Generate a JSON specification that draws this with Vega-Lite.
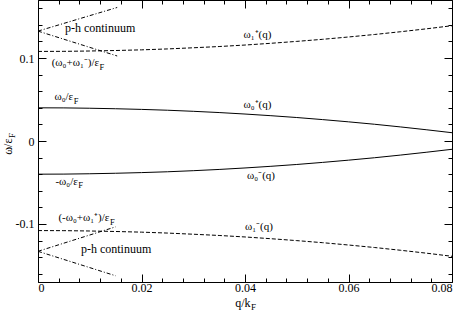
{
  "$schema": "https://vega.github.io/schema/vega-lite/v6.json",
  "width": 414,
  "height": 282,
  "autosize": "none",
  "padding": {"left": 38, "top": 0, "right": 11, "bottom": 29},
  "config": {
    "font": "Liberation Serif, Times New Roman, Times, serif",
    "view": {"stroke": "black", "strokeWidth": 1},
    "axis": {
      "labelFont": "Liberation Serif, Times New Roman, Times, serif", "labelFontSize": 12, "labelColor": "black",
      "tickColor": "black", "tickWidth": 1,
      "titleFont": "Liberation Serif, Times New Roman, Times, serif", "titleFontSize": 12, "titleFontWeight": "normal", "titleColor": "black",
      "grid": false, "domain": false
    },
    "text": {"font": "Liberation Serif, Times New Roman, Times, serif"}
  },
  "datasets": {
    "solid": [
      {"s": "p0", "q": 0, "w": 0.04}, {"s": "p0", "q": 0.005, "w": 0.0399}, {"s": "p0", "q": 0.01, "w": 0.0395}, {"s": "p0", "q": 0.015, "w": 0.0389},
      {"s": "p0", "q": 0.02, "w": 0.0381}, {"s": "p0", "q": 0.025, "w": 0.0371}, {"s": "p0", "q": 0.03, "w": 0.0358}, {"s": "p0", "q": 0.035, "w": 0.0343},
      {"s": "p0", "q": 0.04, "w": 0.0325}, {"s": "p0", "q": 0.045, "w": 0.0305}, {"s": "p0", "q": 0.05, "w": 0.0283}, {"s": "p0", "q": 0.055, "w": 0.0258},
      {"s": "p0", "q": 0.06, "w": 0.0231}, {"s": "p0", "q": 0.065, "w": 0.0202}, {"s": "p0", "q": 0.07, "w": 0.0170}, {"s": "p0", "q": 0.075, "w": 0.0136},
      {"s": "p0", "q": 0.08, "w": 0.0100},
      {"s": "m0", "q": 0, "w": -0.04}, {"s": "m0", "q": 0.005, "w": -0.0399}, {"s": "m0", "q": 0.01, "w": -0.0395}, {"s": "m0", "q": 0.015, "w": -0.0389},
      {"s": "m0", "q": 0.02, "w": -0.0381}, {"s": "m0", "q": 0.025, "w": -0.0371}, {"s": "m0", "q": 0.03, "w": -0.0358}, {"s": "m0", "q": 0.035, "w": -0.0343},
      {"s": "m0", "q": 0.04, "w": -0.0325}, {"s": "m0", "q": 0.045, "w": -0.0305}, {"s": "m0", "q": 0.05, "w": -0.0283}, {"s": "m0", "q": 0.055, "w": -0.0258},
      {"s": "m0", "q": 0.06, "w": -0.0231}, {"s": "m0", "q": 0.065, "w": -0.0202}, {"s": "m0", "q": 0.07, "w": -0.0170}, {"s": "m0", "q": 0.075, "w": -0.0136},
      {"s": "m0", "q": 0.08, "w": -0.0100}
    ],
    "dashed": [
      {"s": "p1", "q": 0, "w": 0.1080}, {"s": "p1", "q": 0.005, "w": 0.1081}, {"s": "p1", "q": 0.01, "w": 0.1085}, {"s": "p1", "q": 0.015, "w": 0.1091},
      {"s": "p1", "q": 0.02, "w": 0.1099}, {"s": "p1", "q": 0.025, "w": 0.1110}, {"s": "p1", "q": 0.03, "w": 0.1124}, {"s": "p1", "q": 0.035, "w": 0.1139},
      {"s": "p1", "q": 0.04, "w": 0.1157}, {"s": "p1", "q": 0.045, "w": 0.1178}, {"s": "p1", "q": 0.05, "w": 0.1201}, {"s": "p1", "q": 0.055, "w": 0.1226},
      {"s": "p1", "q": 0.06, "w": 0.1254}, {"s": "p1", "q": 0.065, "w": 0.1284}, {"s": "p1", "q": 0.07, "w": 0.1317}, {"s": "p1", "q": 0.075, "w": 0.1352},
      {"s": "p1", "q": 0.08, "w": 0.1390},
      {"s": "m1", "q": 0, "w": -0.1080}, {"s": "m1", "q": 0.005, "w": -0.1081}, {"s": "m1", "q": 0.01, "w": -0.1085}, {"s": "m1", "q": 0.015, "w": -0.1091},
      {"s": "m1", "q": 0.02, "w": -0.1099}, {"s": "m1", "q": 0.025, "w": -0.1110}, {"s": "m1", "q": 0.03, "w": -0.1124}, {"s": "m1", "q": 0.035, "w": -0.1139},
      {"s": "m1", "q": 0.04, "w": -0.1157}, {"s": "m1", "q": 0.045, "w": -0.1178}, {"s": "m1", "q": 0.05, "w": -0.1201}, {"s": "m1", "q": 0.055, "w": -0.1226},
      {"s": "m1", "q": 0.06, "w": -0.1254}, {"s": "m1", "q": 0.065, "w": -0.1284}, {"s": "m1", "q": 0.07, "w": -0.1317}, {"s": "m1", "q": 0.075, "w": -0.1352},
      {"s": "m1", "q": 0.08, "w": -0.1390}
    ],
    "dashdot": [
      {"s": "a", "q": 0, "w": 0.1325}, {"s": "a", "q": 0.0153, "w": 0.161},
      {"s": "b", "q": 0, "w": 0.1325}, {"s": "b", "q": 0.0153, "w": 0.1025},
      {"s": "c", "q": 0, "w": -0.133}, {"s": "c", "q": 0.015, "w": -0.1035},
      {"s": "d", "q": 0, "w": -0.133}, {"s": "d", "q": 0.015, "w": -0.1625}
    ],
    "phLabels": [
      {"t": "p-h continuum", "q": 0.0052, "w": 0.136},
      {"t": "p-h continuum", "q": 0.0083, "w": -0.130}
    ],
    "omegaLabels": [
      {"t": "ω₁⁺(q)", "q": 0.0397, "w": 0.1277},
      {"t": "ω₀⁺(q)", "q": 0.0397, "w": 0.0434},
      {"t": "ω₀⁻(q)", "q": 0.0404, "w": -0.042},
      {"t": "ω₁⁻(q)", "q": 0.0400, "w": -0.1036}
    ],
    "epsLabels": [
      {"t": "(ω₀+ω₁⁻)/ε", "sub": "F", "q": 0.0118, "w": 0.094},
      {"t": "ω₀/ε", "sub": "F", "q": 0.0068, "w": 0.053},
      {"t": "-ω₀/ε", "sub": "F", "q": 0.0077, "w": -0.049},
      {"t": "(-ω₀+ω₁⁺)/ε", "sub": "F", "q": 0.0138, "w": -0.093}
    ]
  },
  "resolve": {"scale": {"x": "shared", "y": "shared"}, "axis": {"x": "independent", "y": "independent"}},
  "layer": [
    {
      "data": {"name": "solid"},
      "mark": {"type": "line", "color": "black", "strokeWidth": 1},
      "encoding": {
        "x": {"field": "q", "type": "quantitative", "scale": {"domain": [0, 0.08], "nice": false, "zero": false},
          "axis": {"orient": "bottom", "values": [0, 0.02, 0.04, 0.06, 0.08], "tickSize": -8, "labelPadding": 8,
            "labelExpr": "datum.value < 0 ? '-' + format(-datum.value, '~g') : format(datum.value, '~g')",
            "title": "q/k", "titleX": 212, "titleY": 24.5, "titleAlign": "right", "titleBaseline": "alphabetic", "titleAngle": 0}},
        "y": {"field": "w", "type": "quantitative", "scale": {"domain": [-0.17, 0.17], "nice": false, "zero": false},
          "axis": {"orient": "left", "values": [-0.1, 0, 0.1], "tickSize": -8, "labelPadding": 12,
            "labelExpr": "datum.value < 0 ? '-' + format(-datum.value, '~g') : format(datum.value, '~g')",
            "title": "ω/ε", "titleX": -27, "titleY": 138, "titleAngle": 270, "titleAlign": "right", "titleBaseline": "alphabetic"}},
        "detail": {"field": "s"}
      }
    },
    {
      "data": {"name": "dashed"},
      "mark": {"type": "line", "color": "black", "strokeWidth": 1, "strokeDash": [4, 2]},
      "encoding": {
        "x": {"field": "q", "type": "quantitative", "scale": {"domain": [0, 0.08], "nice": false, "zero": false},
          "axis": {"orient": "bottom", "values": [0, 0.004, 0.008, 0.012, 0.016, 0.02, 0.024, 0.028, 0.032, 0.036, 0.04, 0.044, 0.048, 0.052, 0.056, 0.06, 0.064, 0.068, 0.072, 0.076, 0.08],
            "tickSize": -4, "labels": false, "title": null}},
        "y": {"field": "w", "type": "quantitative", "scale": {"domain": [-0.17, 0.17], "nice": false, "zero": false},
          "axis": {"orient": "left", "values": [-0.16, -0.14, -0.12, -0.1, -0.08, -0.06, -0.04, -0.02, 0, 0.02, 0.04, 0.06, 0.08, 0.1, 0.12, 0.14, 0.16],
            "tickSize": -4, "labels": false, "title": null}},
        "detail": {"field": "s"}
      }
    },
    {
      "data": {"name": "dashdot"},
      "mark": {"type": "line", "color": "black", "strokeWidth": 1, "strokeDash": [4, 2, 1, 2]},
      "encoding": {
        "x": {"field": "q", "type": "quantitative", "scale": {"domain": [0, 0.08], "nice": false, "zero": false},
          "axis": {"orient": "top", "values": [0, 0.02, 0.04, 0.06, 0.08], "tickSize": -8, "labels": false, "title": null}},
        "y": {"field": "w", "type": "quantitative", "scale": {"domain": [-0.17, 0.17], "nice": false, "zero": false},
          "axis": {"orient": "right", "values": [-0.1, 0, 0.1], "tickSize": -8, "labels": false, "title": null}},
        "detail": {"field": "s"}
      }
    },
    {
      "data": {"name": "phLabels"},
      "mark": {"type": "text", "align": "left", "baseline": "middle", "fontSize": 12, "color": "black"},
      "encoding": {
        "x": {"field": "q", "type": "quantitative", "scale": {"domain": [0, 0.08], "nice": false, "zero": false},
          "axis": {"orient": "top", "values": [0, 0.004, 0.008, 0.012, 0.016, 0.02, 0.024, 0.028, 0.032, 0.036, 0.04, 0.044, 0.048, 0.052, 0.056, 0.06, 0.064, 0.068, 0.072, 0.076, 0.08],
            "tickSize": -4, "labels": false, "title": null}},
        "y": {"field": "w", "type": "quantitative", "scale": {"domain": [-0.17, 0.17], "nice": false, "zero": false},
          "axis": {"orient": "right", "values": [-0.16, -0.14, -0.12, -0.1, -0.08, -0.06, -0.04, -0.02, 0, 0.02, 0.04, 0.06, 0.08, 0.1, 0.12, 0.14, 0.16],
            "tickSize": -4, "labels": false, "title": null}},
        "text": {"field": "t"}
      }
    },
    {
      "data": {"name": "omegaLabels"},
      "mark": {"type": "text", "align": "left", "baseline": "middle", "fontSize": 11, "color": "black"},
      "encoding": {
        "x": {"field": "q", "type": "quantitative", "scale": {"domain": [0, 0.08], "nice": false, "zero": false}, "axis": null},
        "y": {"field": "w", "type": "quantitative", "scale": {"domain": [-0.17, 0.17], "nice": false, "zero": false}, "axis": null},
        "text": {"field": "t"}
      }
    },
    {
      "data": {"name": "epsLabels"},
      "mark": {"type": "text", "align": "right", "baseline": "middle", "fontSize": 11, "color": "black"},
      "encoding": {
        "x": {"field": "q", "type": "quantitative", "scale": {"domain": [0, 0.08], "nice": false, "zero": false},
          "axis": {"orient": "bottom", "ticks": false, "labels": false, "title": "F", "titleFontSize": 9,
            "titleX": 212.5, "titleY": 27.5, "titleAlign": "left", "titleBaseline": "alphabetic", "titleAngle": 0}},
        "y": {"field": "w", "type": "quantitative", "scale": {"domain": [-0.17, 0.17], "nice": false, "zero": false},
          "axis": {"orient": "left", "ticks": false, "labels": false, "title": "F", "titleFontSize": 9,
            "titleX": -24, "titleY": 137.5, "titleAngle": 270, "titleAlign": "left", "titleBaseline": "alphabetic"}},
        "text": {"field": "t"}
      }
    },
    {
      "data": {"name": "epsLabels"},
      "mark": {"type": "text", "align": "left", "baseline": "middle", "fontSize": 8.5, "color": "black", "dx": 0.5, "dy": 3.5},
      "encoding": {
        "x": {"field": "q", "type": "quantitative", "scale": {"domain": [0, 0.08], "nice": false, "zero": false}, "axis": null},
        "y": {"field": "w", "type": "quantitative", "scale": {"domain": [-0.17, 0.17], "nice": false, "zero": false}, "axis": null},
        "text": {"field": "sub"}
      }
    }
  ]
}
